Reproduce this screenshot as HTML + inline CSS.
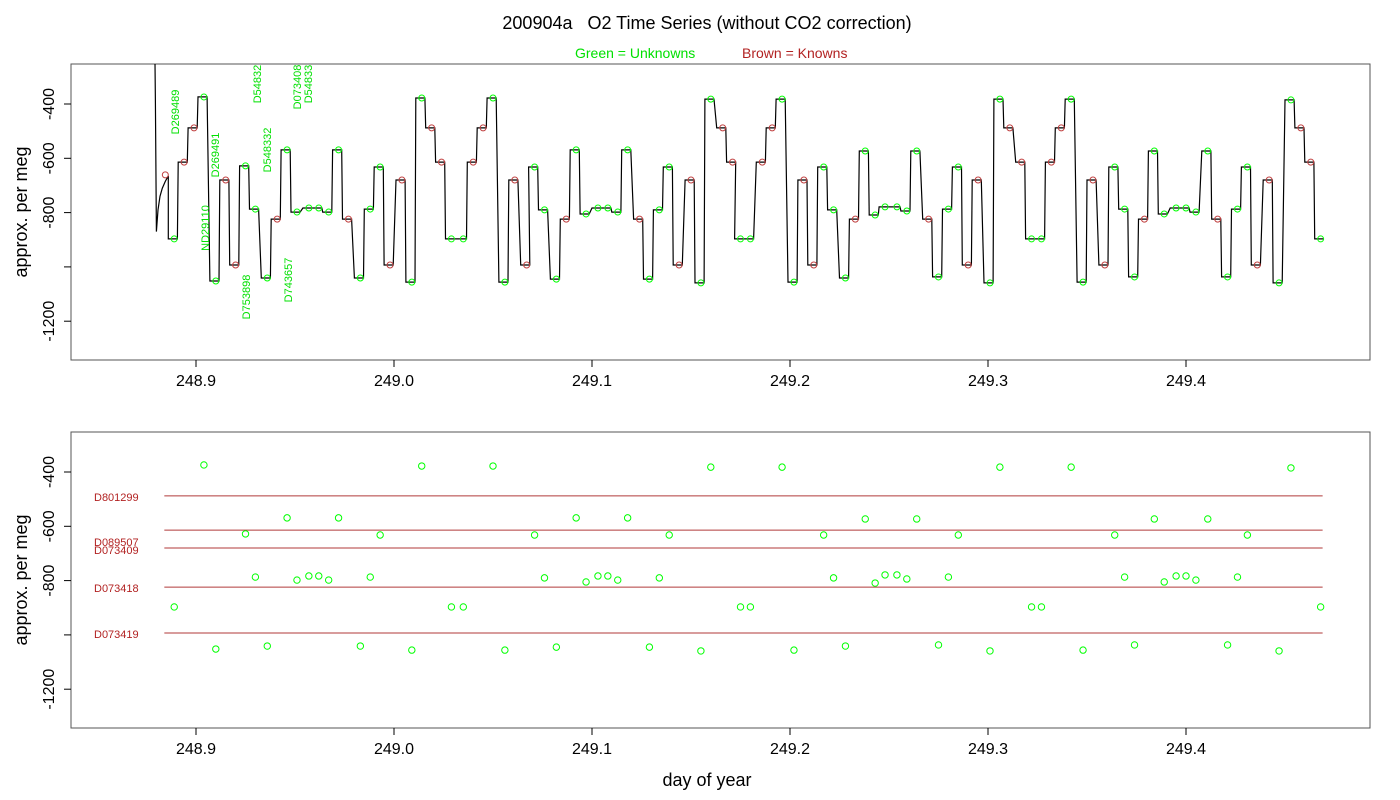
<!DOCTYPE html>
<html><head><meta charset="utf-8">
<style>
html,body{margin:0;padding:0;background:#fff;}
svg{display:block;font-family:"Liberation Sans",sans-serif;}
</style></head>
<body>
<svg id="chart" width="1400" height="800" viewBox="0 0 1400 800" xmlns="http://www.w3.org/2000/svg">
<rect width="1400" height="800" fill="#fff"/>
<text x="707" y="29" font-size="18" text-anchor="middle" fill="#000" style="white-space:pre" xml:space="preserve">200904a   O2 Time Series (without CO2 correction)</text>
<text x="575" y="58" font-size="14" fill="#00e000">Green = Unknowns</text>
<text x="742" y="58" font-size="14" fill="#b22222">Brown = Knowns</text>
<rect x="71" y="64" width="1299" height="296" fill="none" stroke="#555" stroke-width="1"/>
<rect x="71" y="432" width="1299" height="296" fill="none" stroke="#555" stroke-width="1"/>
<text transform="translate(27,212) rotate(-90)" font-size="18" text-anchor="middle">approx. per meg</text>
<text transform="translate(27,580) rotate(-90)" font-size="18" text-anchor="middle">approx. per meg</text>
<text x="707" y="786" font-size="18" text-anchor="middle">day of year</text>
<g id="top-g"></g>
<g id="bot-g"></g>
</svg>
<script>
// ---- data ----
const startTimes = [248.8793, 248.8795, 248.8800, 248.8808, 248.8818, 248.8830, 248.8845, 248.8860];
const startValues = [-250, -390, -870, -790, -740, -710, -685, -665];
const eventTimes = [
248.889,248.894,248.899,248.904,248.910,248.915,248.920,248.925,248.930,248.936,248.941,248.946,248.951,248.957,248.962,248.967,248.972,248.977,248.983,248.988,248.993,248.998,249.004,249.009,249.014,249.019,249.024,
249.029,249.035,249.040,249.045,249.050,249.056,249.061,249.067,249.071,249.076,249.082,249.087,249.092,249.097,249.103,249.108,249.113,249.118,249.124,249.129,249.134,249.139,249.144,249.150,249.155,249.160,249.166,249.171,
249.175,249.180,249.186,249.191,249.196,249.202,249.207,249.212,249.217,249.222,249.228,249.233,249.238,249.243,249.248,249.254,249.259,249.264,249.270,249.275,249.280,249.285,249.290,249.295,249.301,249.306,249.311,249.317,
249.322,249.327,249.332,249.337,249.342,249.348,249.353,249.359,249.364,249.369,249.374,249.379,249.384,249.389,249.395,249.400,249.405,249.411,249.416,249.421,249.426,249.431,249.436,249.442,249.447,249.453,249.458,249.463,249.468];
const eventValues = [
-897,-614,-488,-374,-1052,-680,-993,-628,-787,-1041,-824,-569,-798,-783,-783,-798,-569,-824,-1041,-787,-632,-993,-680,-1056,-378,-488,-614,
-897,-897,-614,-488,-378,-1056,-680,-993,-632,-790,-1045,-824,-569,-805,-783,-783,-798,-569,-824,-1045,-790,-632,-993,-680,-1059,-382,-488,-614,
-897,-897,-614,-488,-382,-1056,-680,-993,-632,-790,-1041,-824,-573,-809,-779,-779,-794,-573,-824,-1037,-787,-632,-993,-680,-1059,-382,-488,-614,
-897,-897,-614,-488,-382,-1056,-680,-993,-632,-787,-1037,-824,-573,-805,-783,-783,-798,-573,-824,-1037,-787,-632,-993,-680,-1059,-385,-488,-614,-897];
const eventKinds = "GBBGGBBGGGBGGGGGGBGGGBBGGBB"+"GGBBGGBBGGGBGGGGGGBGGGBBGGBB"+"GGBBGGBBGGGBGGGGGGBGGGBBGGBB"+"GGBBGGBBGGGBGGGGGGBGGGBBGGBBG";
const knownNames = ["D801299","D089507","D073409","D073418","D073419"];
const knownValues = [-488,-614,-680,-824,-993];
const knownStart = 248.884, knownEnd = 249.469;
const xTicks = [248.9,249.0,249.1,249.2,249.3,249.4];
const yTicks = [-400,-600,-800,-1000,-1200];
const yTickLabels = ["-400","-600","-800","","-1200"];
const tankLabels = [
 ["D269489",175,112],["D269491",215,155],["ND29110",205,228],["D753898",246,297],
 ["D54832",257,84],["D548332",267,150],["D743657",288,280],["D073408",297,87],["D54833",308,84]];
// ---- scales ----
const NS="http://www.w3.org/2000/svg";
const xS = d => 196 + (d-248.9)*1980;
const yTop = v => 104 + (-400 - v)*0.2715;
const yBot = v => 472 + (-400 - v)*0.2715;
function mk(tag, attrs, parent){const e=document.createElementNS(NS,tag);for(const k in attrs)e.setAttribute(k,attrs[k]);parent.appendChild(e);return e;}
const topG=document.getElementById('top-g'), botG=document.getElementById('bot-g');
const svg=document.getElementById('chart');
const defs=mk('defs',{},svg);
const cp=mk('clipPath',{id:'clipTop'},defs);mk('rect',{x:71,y:64,width:1299,height:296},cp);
[[topG,yTop,360],[botG,yBot,728]].forEach(([g,ys,by])=>{
  xTicks.forEach(t=>{
    const l=mk('line',{x1:xS(t),x2:xS(t),y1:by,y2:by+7,stroke:'#000'},g);
    
    
    const tx=mk('text',{x:xS(t),y:by+26,'font-size':16,'text-anchor':'middle'},g);
    
    
    tx.textContent=t.toFixed(1);
  });
  yTicks.forEach((v,i)=>{
    const l=mk('line',{x1:64,x2:71,y1:ys(v),y2:ys(v),stroke:'#000'},g);
    
    
    if(yTickLabels[i]){
      const tx=mk('text',{transform:`translate(54,${ys(v)}) rotate(-90)`,'font-size':16,'text-anchor':'middle'},g);
      
      
      tx.textContent=yTickLabels[i];
    }
  });
});
let pts=[];
startTimes.forEach((t,i)=>pts.push([xS(t),yTop(startValues[i])]));
eventTimes.forEach((t,i)=>{const y=yTop(eventValues[i]);pts.push([xS(t-0.0030),y]);pts.push([xS(t+0.0016),y]);});
const path=mk('path',{d:'M'+pts.map(p=>p[0].toFixed(1)+','+p[1].toFixed(1)).join('L'),fill:'none',stroke:'#000','stroke-width':1.2,'clip-path':'url(#clipTop)'},topG);


const c0=mk('circle',{cx:xS(248.8845),cy:yTop(-661),r:3,fill:'none',stroke:'#c04040'},topG);


eventTimes.forEach((t,i)=>{
  const g=eventKinds[i]==='G';
  const c=mk('circle',{cx:xS(t),cy:yTop(eventValues[i]),r:3,fill:'none',stroke:g?'#00ff00':'#c04040','stroke-width':1},topG);
  
  
});
tankLabels.forEach(([s,x,y])=>{
  const tx=mk('text',{transform:`translate(${x+4},${y}) rotate(-90)`,'font-size':11,'text-anchor':'middle',fill:'#00e000'},topG);
  
  
  tx.textContent=s;
});
const labelOffsets = [5,16,6,5,5];
knownValues.forEach((v,i)=>{
  const l=mk('line',{x1:xS(knownStart),x2:xS(knownEnd),y1:yBot(v),y2:yBot(v),stroke:'#b03a3a','stroke-width':1},botG);
  
  
  const tx=mk('text',{x:94,y:yBot(v)+labelOffsets[i],'font-size':11,fill:'#b22222'},botG);
  
  
  tx.textContent=knownNames[i];
});
eventTimes.forEach((t,i)=>{
  if(eventKinds[i]!=='G')return;
  const c=mk('circle',{cx:xS(t),cy:yBot(eventValues[i]),r:3.2,fill:'none',stroke:'#00ff00','stroke-width':1},botG);
  
  
});
</script>
</body></html>
